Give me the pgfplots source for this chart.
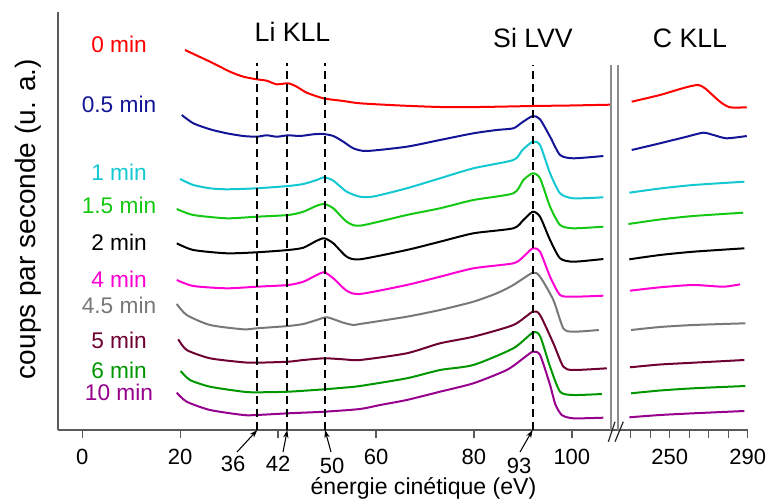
\documentclass[border=0pt]{standalone}
\usepackage{pgfplots}
\pgfplotsset{compat=1.18}
\usepackage{fontspec}
\setmainfont{Liberation Sans}
\usetikzlibrary{arrows.meta}
\definecolor{cA}{RGB}{255,0,0}
\definecolor{cB}{RGB}{20,20,150}
\definecolor{cC}{RGB}{20,200,210}
\definecolor{cD}{RGB}{20,200,20}
\definecolor{cE}{RGB}{0,0,0}
\definecolor{cF}{RGB}{255,0,210}
\definecolor{cG}{RGB}{120,120,120}
\definecolor{cH}{RGB}{110,0,50}
\definecolor{cI}{RGB}{0,150,0}
\definecolor{cJ}{RGB}{150,0,140}
\definecolor{axgray}{RGB}{90,90,90}
\definecolor{brk}{RGB}{140,140,140}
\newcommand{\tickfont}{\fontsize{16.5}{19}\selectfont}
\newcommand{\serfont}{\fontsize{17}{20}\selectfont}
\newcommand{\ttlfont}{\fontsize{20}{24}\selectfont}
\begin{document}
\begin{tikzpicture}
\useasboundingbox (0,0) rectangle (574.5pt,-374.25pt);
\pgfplotsset{myax/.style={
  anchor=south west, height=313.5pt, scale only axis,
  ymin=0, ymax=418, ytick=\empty,
  axis line style={-, draw=axgray, line width=1pt},
  tick align=outside, major tick length=6pt,
  tick style={draw=axgray, line width=1pt},
  ticklabel style={font=\tickfont, text=black},
  xticklabel style={yshift=-4.5pt},
  /pgf/number format/assume math mode=true,
  clip=false,
  every axis plot/.append style={line width=1.5pt, smooth, tension=0.4, no markers},
}}
% ---------- left part ----------
\begin{axis}[myax,
  at={(43.5pt,-322.5pt)}, width=415.5pt,
  xmin=-4.96, xmax=108.2,
  axis x line*=bottom, axis y line*=left,
  xtick={0,20,40,60,80,100}, xticklabels={0,20,,60,80,100},
]
\addplot[cA] coordinates {(20.98,380) (26.09,368.3) (30.17,358.3) (32.89,353.3) (35.63,350.7) (37.67,349.3) (39.71,345.7) (42.08,346.7) (43.80,343.3) (45.84,337.3) (49.23,331.7) (53.32,329) (56.73,326.7) (64.90,324.5) (73.07,323) (81.24,323) (92.07,324) (99.63,324.5) (107.8,325.3)};
\addplot[cB] coordinates {(20.31,315) (22.68,306.7) (26.09,300.7) (29.50,296.7) (32.89,294) (35.63,293.3) (37.67,294.7) (39.71,293.3) (42.08,294.7) (44.47,294) (47.19,295.7) (49.23,296) (51.28,294) (53.32,288.3) (55.36,281.7) (58.10,279) (66.27,283.3) (73.07,290) (79.88,296.7) (84.66,300) (88.05,301.7) (89.76,307.3) (92.01,314) (93.50,310.7) (95.55,293.3) (97.59,275) (100.31,271.7) (106.43,274)};
\addplot[cC] coordinates {(19.96,251) (22.68,245) (26.09,241.7) (29.50,240.7) (35.63,241.7) (42.08,244) (45.15,246) (47.89,250) (49.44,252.7) (51.28,249.3) (54.01,238.3) (56.73,233.3) (59.5,233.5) (66.27,241.7) (73.07,251.7) (79.88,261.7) (88.05,270) (89.9,280) (92.01,288.3) (93.50,285) (95.55,256.7) (97.59,236.7) (100.31,231.7) (106.43,232.7)};
\addplot[cD] coordinates {(19.29,221) (22.68,215) (29.50,211.7) (35.63,213.3) (42.08,215) (45.15,218.3) (47.89,224.3) (49.44,226) (51.28,221.7) (54.01,208.3) (56.73,204.3) (66.27,215) (73.07,221.7) (79.88,230) (88.05,236.7) (90.09,250) (92.01,256.7) (93.50,251.7) (95.55,223.3) (97.59,205) (100.31,201.7) (106.43,203.3)};
\addplot[cE] coordinates {(19.29,186.7) (22.68,180) (29.50,176.7) (35.63,177.7) (42.08,180) (45.15,182.3) (47.89,189.3) (49.44,191.7) (51.28,186.7) (54.01,173.3) (56.73,170.7) (66.27,180) (73.07,188.3) (79.88,196.7) (88.05,201.7) (90.09,210) (92.01,218.3) (93.50,213.3) (95.55,190) (97.59,171.7) (100.31,168.3) (106.43,171)};
\addplot[cF] coordinates {(19.29,150) (22.68,144) (29.50,141.7) (35.63,143.3) (42.08,145) (45.15,148.3) (47.89,155) (49.44,157.7) (51.28,151.7) (54.01,139.3) (56.73,136) (66.27,145) (73.07,153.3) (79.88,161.7) (88.05,166.7) (90.09,173.3) (92.01,181.7) (93.50,178.3) (95.55,153.3) (97.59,135) (100.31,133.3) (106.43,134.3)};
\addplot[cG] coordinates {(19.29,126) (21.33,115) (26.09,105) (32.89,100.7) (35.63,101.7) (42.08,104) (45.15,106) (47.89,110) (50.0,112.7) (53.32,107.3) (55.36,105) (56.73,106) (66.27,113.3) (73.07,120) (79.88,128.3) (84.66,136.7) (88.05,145) (92.01,157.3) (93.50,153.3) (96.22,130) (98.26,101.7) (100.31,98.3) (105.5,100)};
\addplot[cH] coordinates {(19.61,90.7) (21.33,80) (26.09,71.7) (32.89,67.7) (35.63,67.3) (42.08,68.3) (45.15,70) (49.44,71.7) (53.32,70.7) (56.73,70) (66.27,76.7) (73.07,86.7) (79.88,93.3) (88.05,105) (92.01,118.3) (93.50,115) (96.22,86.7) (98.26,63.3) (100.31,60) (107.13,61.7)};
\addplot[cI] coordinates {(20.10,59) (22.00,50) (26.09,43.3) (32.89,38.3) (35.63,37.7) (42.08,38.3) (49.44,40.7) (53.32,42.3) (56.73,44) (66.27,51.7) (73.07,60) (79.88,65) (88.05,81.7) (92.01,97.3) (93.50,94) (95.55,63.3) (97.59,38.3) (100.31,35) (106.11,36)};
\addplot[cJ] coordinates {(19.29,37.3) (21.33,28.3) (26.09,20) (32.89,15) (35.63,15) (42.08,16.7) (49.44,18.3) (56.73,21) (60.82,25) (66.27,30) (73.07,38.3) (79.88,46.7) (86.70,60) (90.09,71.7) (92.01,78.3) (93.50,75) (95.55,45) (96.6,26) (97.94,15) (100.31,11.7) (106.43,12.3)};
% dashed reference lines
\addplot[black, line width=1.5pt, sharp plot, dash pattern=on 6pt off 3.75pt] coordinates {(35.75,0) (35.75,367)};
\addplot[black, line width=1.5pt, sharp plot, dash pattern=on 6pt off 3.75pt] coordinates {(41.88,0) (41.88,367)};
\addplot[black, line width=1.5pt, sharp plot, dash pattern=on 6pt off 3.75pt] coordinates {(49.58,0) (49.58,367)};
\addplot[black, line width=1.5pt, sharp plot, dash pattern=on 6pt off 3.75pt] coordinates {(92.0,0) (92.0,365)};
\end{axis}
% ---------- right part ----------
\begin{axis}[myax,
  at={(459pt,-322.5pt)}, width=102pt,
  xmin=220.4, xmax=290.15,
  axis x line*=bottom, axis y line=none,
  xtick={230,240,250,260,270,280,290}, xticklabels={,,250,,,,290},
]
\addplot[cA] coordinates {(230.5,328.3) (245.0,335) (253.6,340) (260,343.5) (264.7,345) (268.1,341.7) (275.8,328.3) (280.9,322.7) (289.5,322.7)};
\addplot[cB] coordinates {(230.5,280) (245.0,286.7) (258.7,293.3) (267.2,297.3) (272.4,295) (279.2,291.7) (289.5,294)};
\addplot[cC] coordinates {(229.3,237.3) (245,241.5) (262.1,245) (288.3,248.3)};
\addplot[cD] coordinates {(228.8,206) (245,210.5) (262.1,214) (287.7,217.3)};
\addplot[cE] coordinates {(229.3,170.7) (245,175) (262.1,178.3) (288.3,181.7)};
\addplot[cF] coordinates {(229.6,139.3) (245.0,142.7) (262.1,145) (277.5,143.3) (286.1,145.7)};
\addplot[cG] coordinates {(230.2,100) (245,103) (262.1,105) (288.8,106.7)};
\addplot[cH] coordinates {(229.6,62.7) (245,65.5) (262.1,67.3) (288.3,70)};
\addplot[cI] coordinates {(230.2,36.7) (245,39.5) (262.1,41.7) (288.8,44)};
\addplot[cJ] coordinates {(229.3,12.7) (245,15) (262.1,16.7) (288.3,19)};
\end{axis}
% ---------- annotations (pixel units) ----------
\begin{scope}[x=0.75pt,y=-0.75pt]
\draw[brk, line width=1.6pt] (611,65) -- (611,430);
\draw[brk, line width=1.6pt] (618,65) -- (618,430);
\draw[black!85, line width=0.9pt] (608.3,441.7) -- (615,421.7);
\draw[black!85, line width=0.9pt] (615,441.7) -- (623.3,421.7);
\foreach \a/\b/\c/\d in {237/452/257.3/430, 283/452/287.3/430, 331/452/325/430, 520/452/532.6/430}
  \draw[black, line width=0.8pt, -{Stealth[length=6pt,width=4pt]}] (\a,\b) -- (\c,\d);
\node[anchor=base, font=\tickfont, inner sep=0pt] at (233,471.7) {36};
\node[anchor=base, font=\tickfont, inner sep=0pt] at (278,471.7) {42};
\node[anchor=base, font=\tickfont, inner sep=0pt] at (332,473.3) {50};
\node[anchor=base, font=\tickfont, inner sep=0pt] at (519,473) {93};
\node[anchor=base, font=\ttlfont, inner sep=0pt] at (292.5,42) {Li KLL};
\node[anchor=base, font=\ttlfont, inner sep=0pt] at (533,48) {Si LVV};
\node[anchor=base, font=\ttlfont, inner sep=0pt] at (690,48) {C KLL};
\node[anchor=base, font=\fontsize{17.3}{20}\selectfont, inner sep=0pt] at (423.5,494.5) {énergie cinétique (eV)};
\node[anchor=base, rotate=90, font=\fontsize{21}{24}\selectfont, inner sep=0pt] at (35,219) {coups par seconde (u. a.)};
\foreach \t/\yy/\cc in {0 min/53/cA, 0.5 min/113/cB, 1 min/180/cC, 1.5 min/213/cD, 2 min/250/cE, 4 min/287/cF, 4.5 min/313/cG, 5 min/348/cH, 6 min/378/cI, 10 min/400/cJ}
  \node[anchor=base, font=\serfont, text=\cc, inner sep=0pt] at (119,\yy) {\t};
\end{scope}
\end{tikzpicture}
\end{document}
